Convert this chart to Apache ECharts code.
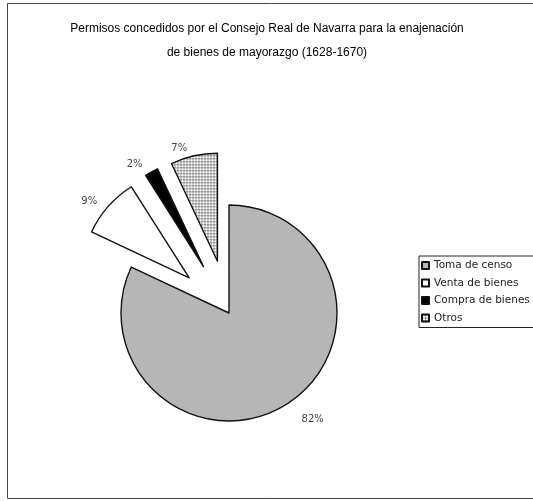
<!DOCTYPE html>
<html>
<head>
<meta charset="utf-8">
<script src="https://cdn.jsdelivr.net/npm/echarts@6/dist/echarts.min.js"></script>
<style>
  html, body { margin: 0; padding: 0; background: #fff; }
  #chart { width: 533px; height: 501px; }
</style>
</head>
<body>
<div id="chart"></div>
<script>
// Permisos por tipo de enajenación (porcentaje del total)
const categories = ['Toma de censo', 'Venta de bienes', 'Compra de bienes', 'Otros'];
const shares = [82, 9, 2, 7];
const exploded = [false, true, true, true];

// Small dotted tile for the "Otros" slice
function dotTile() {
  const c = document.createElement('canvas');
  c.width = 3; c.height = 3;
  const g = c.getContext('2d');
  g.fillStyle = '#ffffff';
  g.fillRect(0, 0, 3, 3);
  g.fillStyle = '#a8a8a8';
  g.fillRect(0, 0, 3, 1);
  g.fillRect(0, 0, 1, 3);
  g.fillStyle = '#555555';
  g.fillRect(0, 0, 1, 1);
  return c;
}

const fills = ['#b6b6b6', '#ffffff', '#000000', { image: dotTile(), repeat: 'repeat' }];
const labelGap = [18, 8, 8, 8];

const chart = echarts.init(document.getElementById('chart'), null, { renderer: 'canvas' });

chart.setOption({
  animation: false,
  backgroundColor: '#ffffff',
  title: {
    text: 'Permisos concedidos por el Consejo Real de Navarra para la enajenación\nde bienes de mayorazgo (1628-1670)',
    left: 262,
    textAlign: 'center',
    top: 12,
    textStyle: {
      fontFamily: 'Liberation Sans',
      fontSize: 12,
      fontWeight: 'normal',
      color: '#000',
      lineHeight: 24
    }
  },
  legend: {
    orient: 'vertical',
    left: 419,
    top: 256,
    padding: [4, 30, 4, 2],
    borderColor: '#222',
    borderWidth: 1,
    itemWidth: 7,
    itemHeight: 7,
    itemGap: 6.5,
    icon: 'rect',
    textStyle: {
      fontFamily: 'DejaVu Sans',
      fontSize: 10.5,
      color: '#222'
    },
    selectedMode: false,
    data: categories
  },
  graphic: [{
    type: 'rect',
    shape: { x: 7.5, y: 3.5, width: 540, height: 495 },
    style: { fill: 'none', stroke: '#444', lineWidth: 1 },
    silent: true,
    z: 100
  }],
  series: [{
    type: 'pie',
    center: [229, 313],
    radius: 108,
    startAngle: 90,
    clockwise: true,
    selectedMode: 'multiple',
    selectedOffset: 53,
    avoidLabelOverlap: false,
    itemStyle: { borderColor: '#111', borderWidth: 1.4 },
    label: {
      position: 'outside',
      formatter: '{c}%',
      fontFamily: 'DejaVu Sans',
      fontSize: 10,
      color: '#444'
    },
    labelLine: { show: false, length: 8, length2: 0 },
    emphasis: { disabled: true },
    data: categories.map((name, i) => ({
      name: name,
      value: shares[i],
      selected: exploded[i],
      itemStyle: { color: fills[i] },
      labelLine: { show: false, length: labelGap[i], length2: 0 }
    }))
  }]
});
</script>
</body>
</html>
